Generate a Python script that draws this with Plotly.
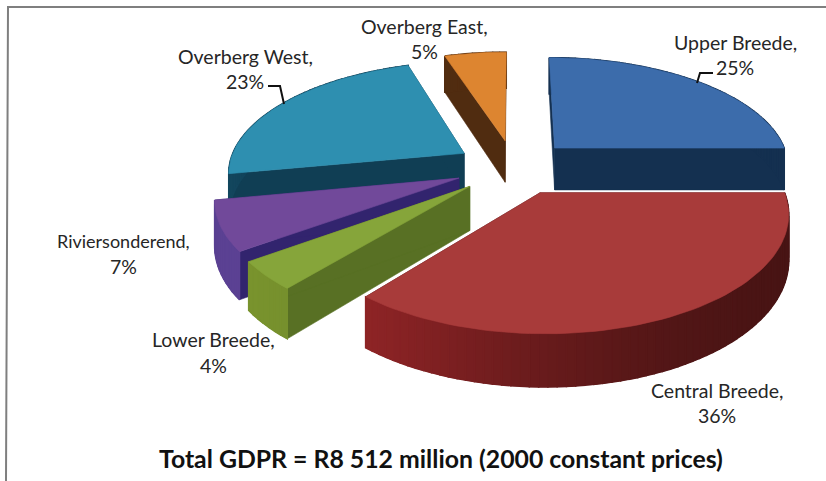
import numpy as np
import plotly.graph_objects as go

# Regional shares of GDPR, clockwise from twelve o'clock
regions = ["Upper Breede", "Central Breede", "Lower Breede", "Riviersonderend", "Overberg West", "Overberg East"]
shares = [25, 36, 4, 7, 23, 5]
title_text = "Total GDPR = R8 512 million (2000 constant prices)"

top_colors = ["#3c6cab", "#a83b3a", "#86a53a", "#71499a", "#2e8fb0", "#dd8530"]
wall_dark = [(20, 48, 80), (72, 20, 20), (88, 112, 36), (50, 36, 110), (16, 62, 84), (80, 44, 16)]
wall_light = [(24, 56, 92), (150, 38, 40), (122, 148, 46), (92, 66, 148), (20, 72, 96), (110, 62, 22)]
draw_order = [5, 0, 4, 3, 2, 1]

label_lines = {
    "Upper Breede": (735, 42, 67), "Central Breede": (717, 390, 415), "Lower Breede": (213, 339, 365),
    "Riviersonderend": (123, 241, 266), "Overberg West": (245, 56, 81), "Overberg East": (424, 26, 51),
}
label_sizes = {"Riviersonderend": 18}

# Projection of the tilted pie onto the page
CX, CY = 514, 167
SCALE_X, SCALE_Y, PERSP = 236, 110, 0.156
EXPLODE, DEPTH = 0.25, 43


def project(x, y, z=0.0):
    s = 1 + PERSP * np.asarray(y, dtype=float)
    return CX + SCALE_X * np.asarray(x) / s, CY - SCALE_Y * np.asarray(y) / s + DEPTH * z / s


def polygon(xs, ys, color, width=0.6):
    rgb = color if isinstance(color, str) else f"rgb({color[0]},{color[1]},{color[2]})"
    return go.Scatter(x=np.append(xs, xs[0]), y=np.append(ys, ys[0]), mode="lines", fill="toself",
                      fillcolor=rgb, line=dict(color=rgb, width=width), hoverinfo="skip", showlegend=False)


def mix(a, b, t):
    return tuple(int(a[k] + (b[k] - a[k]) * t) for k in range(3))


fig = go.Figure()
edges = np.concatenate([[0], np.cumsum(shares)]) / 100 * 2 * np.pi

for i in draw_order:
    a0, a1 = edges[i], edges[i + 1]
    mid = (a0 + a1) / 2
    ox, oy = EXPLODE * np.sin(mid), EXPLODE * np.cos(mid)
    theta = np.linspace(a0, a1, max(6, shares[i] * 2))
    px, py = ox + np.sin(theta), oy + np.cos(theta)

    # radial walls
    for ang in (a0, a1):
        rx, ry = [ox, ox + np.sin(ang)], [oy, oy + np.cos(ang)]
        tx, ty = project(rx, ry, 0)
        bx, by = project(rx, ry, 1)
        fig.add_trace(polygon(np.r_[tx, bx[::-1]], np.r_[ty, by[::-1]], wall_dark[i]))

    # rim wall: a solid base, then strips shaded along the arc with a slight overlap
    tx, ty = project(px, py, 0)
    bx, by = project(px, py, 1)
    fig.add_trace(polygon(np.r_[tx, bx[::-1]], np.r_[ty, by[::-1]], wall_dark[i]))
    for j in range(len(theta) - 1):
        rx, ry = px[j:j + 2], py[j:j + 2]
        tx, ty = project(rx, ry, 0)
        bx, by = project(rx, ry, 1)
        t = (0.5 + 0.5 * np.cos(theta[j] - np.radians(240))) ** 3
        fig.add_trace(polygon(np.r_[tx, bx[::-1]], np.r_[ty, by[::-1]], mix(wall_dark[i], wall_light[i], t), 1.5))

    # top face
    fx, fy = project(np.r_[ox, px], np.r_[oy, py], 0)
    fig.add_trace(polygon(fx, fy, top_colors[i]))

# leader lines
leaders = [((268, 280, 284), (86, 86, 104)), ((713, 700, 697), (73, 73, 83))]
for lx, ly in leaders:
    fig.add_trace(go.Scatter(x=lx, y=ly, mode="lines", line=dict(color="#111111", width=2),
                             hoverinfo="skip", showlegend=False))

# slice labels, one annotation per text line
for name, share in zip(regions, shares):
    x, y1, y2 = label_lines[name]
    size = label_sizes.get(name, 19.5)
    for txt, y, sz in ((name + ",", y1, size), (f"{share}%", y2, 19.5)):
        fig.add_annotation(x=x, y=y, text=txt, showarrow=False, xanchor="center", yanchor="middle",
                           font=dict(family="Lato", size=sz, color="#262626"))

fig.add_annotation(x=441, y=458, text=f"<b>{title_text}</b>", showarrow=False, xanchor="center", yanchor="middle",
                   font=dict(family="Lato", size=24.8, color="#111111"))

# chart frame
fig.add_trace(go.Scatter(x=[6, 8, 826], y=[481, 7, 7], mode="lines", line=dict(color="#7f7f7f", width=2),
                         hoverinfo="skip", showlegend=False))

fig.update_layout(
    width=826, height=481, margin=dict(l=0, r=0, t=0, b=0),
    paper_bgcolor="white", plot_bgcolor="white", showlegend=False,
    xaxis=dict(range=[0, 826], visible=False, fixedrange=True),
    yaxis=dict(range=[481, 0], visible=False, fixedrange=True),
)
fig.write_html("out.html")
